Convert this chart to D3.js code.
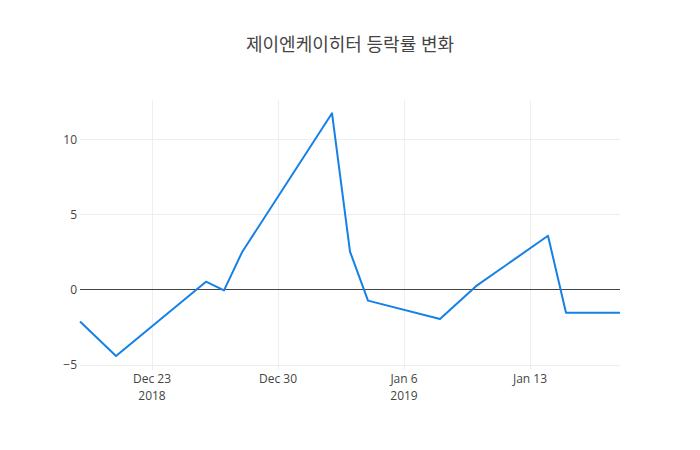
<!DOCTYPE html>
<html>
<head>
<meta charset="utf-8">
<script src="https://cdn.jsdelivr.net/npm/d3@7"></script>
<style>
  body { margin: 0; background: #fff; }
  text { font-family: "Open Sans", "Noto Sans CJK KR", sans-serif; fill: #444; }
</style>
</head>
<body>
<div id="app"></div>
<script>
'use strict'
// values
const dates = ['2018-12-19', '2018-12-21', '2018-12-26', '2018-12-27', '2018-12-28',
  '2019-01-02', '2019-01-03', '2019-01-04', '2019-01-08', '2019-01-10',
  '2019-01-14', '2019-01-15', '2019-01-18']
const changes = [-2.1, -4.39, 0.55, -0.03, 2.5, 11.74, 2.55, -0.71, -1.93, 0.25, 3.6, -1.51, -1.51]
const yTicks = [-5, 0, 5, 10]
const xTicks = ['2018-12-23', '2018-12-30', '2019-01-06', '2019-01-13']
const xTickLabels = ['Dec 23', 'Dec 30', 'Jan 6', 'Jan 13']
const yearLabels = ['2018', '', '2019', '']
const title = '제이엔케이히터 등락률 변화'

const W = 700, H = 450
const margin = { top: 100, right: 80, bottom: 80, left: 80 }
const width = W - margin.left - margin.right
const height = H - margin.top - margin.bottom

const parse = d3.utcParse('%Y-%m-%d')
const data = dates.map((d, i) => ({ date: parse(d), v: changes[i] }))

const svg = d3.select('#app').append('svg')
  .attr('width', W)
  .attr('height', H)

svg.append('text')
  .attr('x', W / 2)
  .attr('y', 51)
  .attr('text-anchor', 'middle')
  .style('font-size', '18px')
  .text(title)

const g = svg.append('g')
  .attr('transform', `translate(${margin.left}, ${margin.top})`)

const x = d3.scaleUtc()
  .domain(d3.extent(data, d => d.date))
  .range([0, width])

const y = d3.scaleLinear()
  .domain([-5.32, 12.62])
  .range([height, 0])

// grid
g.selectAll('.xgrid').data(xTicks).enter().append('line')
  .attr('x1', d => x(parse(d))).attr('x2', d => x(parse(d)))
  .attr('y1', 0).attr('y2', height)
  .style('stroke', '#eee').style('stroke-width', 1)
  .style('shape-rendering', 'crispEdges')

g.selectAll('.ygrid').data(yTicks.filter(t => t !== 0)).enter().append('line')
  .attr('x1', 0).attr('x2', width)
  .attr('y1', d => y(d)).attr('y2', d => y(d))
  .style('stroke', '#eee').style('stroke-width', 1)
  .style('shape-rendering', 'crispEdges')

// zero line
g.append('line')
  .attr('x1', 0).attr('x2', width)
  .attr('y1', y(0)).attr('y2', y(0))
  .style('stroke', '#444').style('stroke-width', 1)
  .style('shape-rendering', 'crispEdges')

// y tick labels
g.selectAll('.ylab').data(yTicks).enter().append('text')
  .attr('x', -3)
  .attr('y', d => y(d))
  .attr('dy', '0.35em')
  .attr('text-anchor', 'end')
  .style('font-size', '12px')
  .text(d => d < 0 ? '\u2212' + Math.abs(d) : d)

// x tick labels, year on a second line
g.selectAll('.xlab').data(xTicks).enter().append('text')
  .attr('x', d => x(parse(d)))
  .attr('y', height + 13)
  .attr('text-anchor', 'middle')
  .style('font-size', '12px')
  .text((d, i) => xTickLabels[i])

g.selectAll('.ylabel').data(xTicks).enter().append('text')
  .attr('x', d => x(parse(d)))
  .attr('y', height + 30)
  .attr('text-anchor', 'middle')
  .style('font-size', '12px')
  .text((d, i) => yearLabels[i])

const line = d3.line()
  .x(d => x(d.date))
  .y(d => y(d.v))

g.append('path')
  .datum(data)
  .attr('d', line)
  .style('fill', 'none')
  .style('stroke', '#1580e6')
  .style('stroke-width', 2)
  .style('stroke-linejoin', 'round')
</script>
</body>
</html>
